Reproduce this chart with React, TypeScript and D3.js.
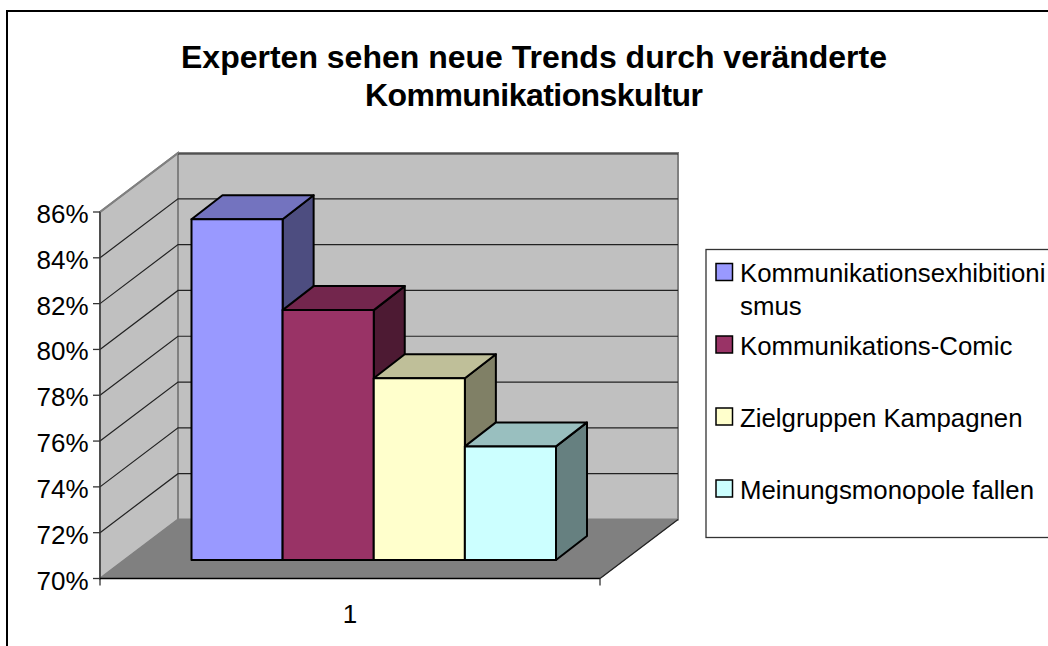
import React from "react";
import * as d3 from "d3";

const title = ["Experten sehen neue Trends durch veränderte", "Kommunikationskultur"];
const titleWidths = [706, 338];
const seriesNames = ["Kommunikationsexhibitioni|smus", "Kommunikations-Comic", "Zielgruppen Kampagnen", "Meinungsmonopole fallen"];
const seriesValues = [85, 81, 78, 75];
const faceColors = ["#9999ff", "#993366", "#ffffcc", "#ccffff"];
const topColors = ["#7373bf", "#73264d", "#bfbf99", "#99bfbf"];
const sideColors = ["#4d4d80", "#4d1a33", "#808066", "#668080"];
const yTicks = [70, 72, 74, 76, 78, 80, 82, 84, 86];
const categoryLabels = ["1"];
const legendRowsY = [272, 344.5, 416.5, 488.5];

const FONT = "'Liberation Sans', Arial, sans-serif";
const W = 1048, H = 646;

export default function App() {
  const y = d3.scaleLinear().domain([70, 86]).range([578.5, 212]);
  const yBar = d3.scaleLinear().domain([70, 86]).range([560, 196.5]);
  const xFront = d3.scaleLinear().domain([0, 1]).range([100, 600]);
  const xBar = d3.scaleBand<number>().domain(d3.range(seriesValues.length)).range([191.5, 556]);
  const dx = 78, dy = -59;
  const bdx = 31, bdy = -24;
  const grey = "#808080";
  const x0 = xFront(0), x1 = xFront(1), y0 = y(70), yTop = y(86);
  const line = d3.line();
  const poly = (pts: [number, number][]) => line(pts) + "Z";

  return (
    <svg width={W} height={H} viewBox={`0 0 ${W} ${H}`} style={{ position: "absolute", left: 0, top: 0 }} fontFamily={FONT}>
      <rect x={0} y={0} width={W} height={H} fill="#fff" />
      <rect x={7} y={11} width={1100} height={700} fill="#fff" stroke="#000" strokeWidth={2} />
      {title.map((t, i) => (
        <text key={i} x={534} y={67.5 + i * 38.5} textAnchor="middle" fontWeight="bold" fontSize={32} fill="#000"
          textLength={titleWidths[i]} lengthAdjust="spacing">{t}</text>
      ))}

      {/* walls */}
      <path d={poly([[x0 + dx, yTop + dy], [x1 + dx, yTop + dy], [x1 + dx, y0 + dy], [x0 + dx, y0 + dy]])} fill="#c0c0c0" stroke={grey} strokeWidth={2} />
      <path d={poly([[x0, yTop], [x0 + dx, yTop + dy], [x0 + dx, y0 + dy], [x0, y0]])} fill="#c0c0c0" stroke={grey} strokeWidth={2} />
      <path d={poly([[x0, y0], [x0 + dx, y0 + dy], [x1 + dx, y0 + dy], [x1, y0]])} fill={grey} stroke={grey} />

      {/* gridlines */}
      {yTicks.slice(1, -1).map((t) => (
        <path key={t} fill="none" stroke="#222" strokeWidth={1.2}
          d={line([[x0, y(t)], [x0 + dx, y(t) + dy], [x1 + dx, y(t) + dy]])!} />
      ))}
      <line x1={x0 + dx} x2={x1 + dx} y1={yTop + dy + 1} y2={yTop + dy + 1} stroke="#222" strokeWidth={1.2} />
      <line x1={x0} x2={x0 + dx} y1={yTop} y2={yTop + dy} stroke={grey} strokeWidth={2} />

      {/* bars */}
      {seriesValues.map((v, i) => {
        const l = xBar(i)!, r = l + xBar.bandwidth();
        const b = yBar(70), t = yBar(v);
        return (
          <g key={i} stroke="#000" strokeWidth={2} strokeLinejoin="round">
            <path d={poly([[r, b], [r + bdx, b + bdy], [r + bdx, t + bdy], [r, t]])} fill={sideColors[i]} />
            <path d={poly([[l, t], [l + bdx, t + bdy], [r + bdx, t + bdy], [r, t]])} fill={topColors[i]} />
            <rect x={l} y={t} width={r - l} height={b - t} fill={faceColors[i]} />
          </g>
        );
      })}

      {/* axes */}
      <line x1={x0} x2={x0} y1={yTop} y2={y0 + 7} stroke="#333" strokeWidth={1.3} />
      <line x1={x0} x2={x1} y1={y0} y2={y0} stroke="#000" strokeWidth={1.5} />
      <line x1={x1} x2={x1} y1={y0} y2={y0 + 7} stroke="#333" strokeWidth={1.3} />
      <line x1={x1} x2={x1 + dx} y1={y0} y2={y0 + dy} stroke="#222" strokeWidth={1.3} />
      {yTicks.map((t) => (
        <g key={t}>
          <line x1={x0 - 7} x2={x0} y1={y(t)} y2={y(t)} stroke="#333" strokeWidth={1.3} />
          <text x={88.5} y={y(t) + 11} textAnchor="end" fontSize={26} fill="#000">{t}%</text>
        </g>
      ))}
      {categoryLabels.map((c) => (
        <text key={c} x={(x0 + x1) / 2} y={623} textAnchor="middle" fontSize={26} fill="#000">{c}</text>
      ))}

      {/* legend */}
      <rect x={706} y={249.5} width={400} height={288} fill="#fff" stroke="#333" strokeWidth={1.3} />
      {seriesNames.map((n, i) => (
        <g key={n}>
          <rect x={716} y={legendRowsY[i] - 8.5} width={16.5} height={17} fill={faceColors[i]} stroke="#000" strokeWidth={1.5} />
          {n.split("|").map((part, k) => (
            <text key={k} x={740} y={legendRowsY[i] + 10 + k * 33} fontSize={25.8} fill="#000">{part}</text>
          ))}
        </g>
      ))}
    </svg>
  );
}
